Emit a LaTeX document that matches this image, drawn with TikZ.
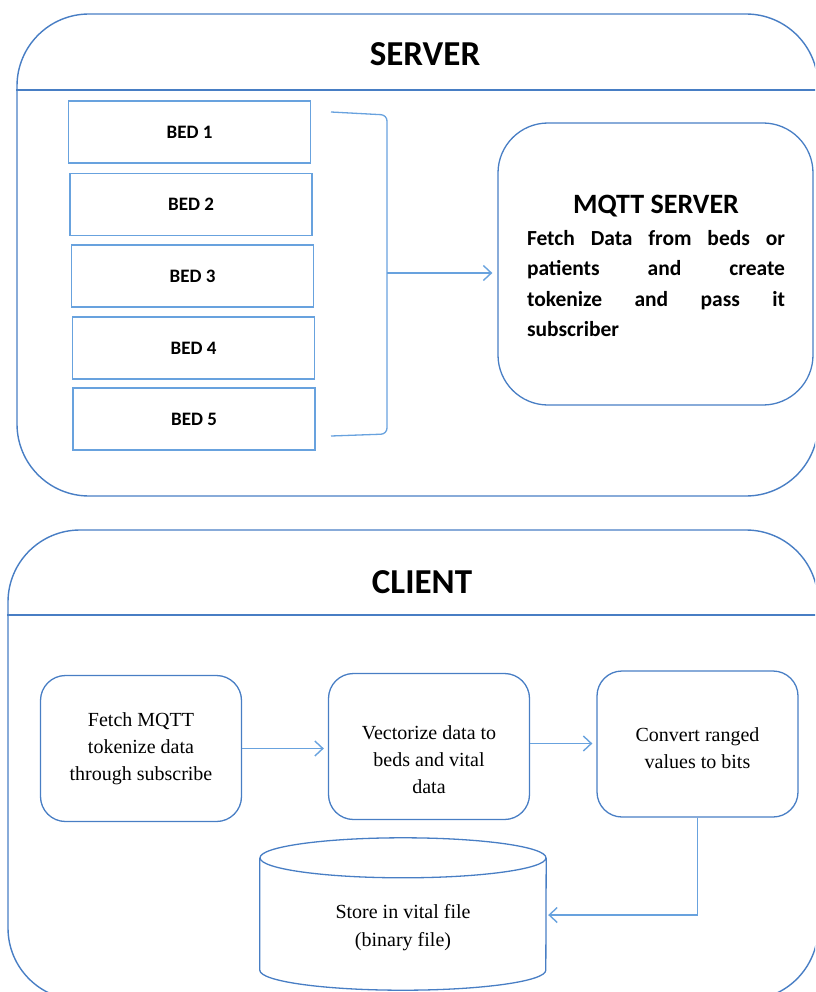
\documentclass[tikz,border=0pt]{standalone}
\usepackage{fontspec}
\setmainfont{Liberation Serif}
\newfontfamily\calfont{Carlito}
\usetikzlibrary{arrows.meta}

\definecolor{edgeblue}{RGB}{72,126,196}
\definecolor{lineblue}{RGB}{104,162,222}

\tikzset{
  outerbox/.style={draw=edgeblue, line width=1.4pt, rounded corners=72pt, inner sep=0pt},
  divider/.style={draw=edgeblue, line width=1.2pt},
  paneltitle/.style={font=\calfont\bfseries\fontsize{35}{40}\selectfont},
  bedbox/.style={draw=lineblue, line width=1.3pt, minimum width=242pt, minimum height=62pt,
    inner sep=0pt, font=\calfont\bfseries\fontsize{19}{22}\selectfont},
  mqttbox/.style={draw=edgeblue, line width=1.3pt, rounded corners=50pt,
    minimum width=315pt, minimum height=282pt, inner sep=0pt},
  stepbox/.style={draw=edgeblue, line width=1.3pt, rounded corners=25pt,
    minimum width=201pt, minimum height=146pt, inner sep=0pt},
  steptext/.style={align=center, inner sep=0pt, font=\fontsize{20}{27}\selectfont},
  conn/.style={draw=lineblue, line width=1.4pt,
    -{Straight Barb[length=8pt,width=15pt,line width=1.4pt]}},
  bracket/.style={draw=lineblue, line width=1.3pt, rounded corners=6pt},
}

\begin{document}
\begin{tikzpicture}[x=1pt, y=-1pt]
\useasboundingbox (0,0) rectangle (815,992);
\clip (0,0) rectangle (815,992);

% ---------------- server panel ----------------
\node[outerbox, minimum width=801pt, minimum height=482pt] (server) at (417.5,255) {};
\draw[divider] (server.west |- 0,90) -- (server.east |- 0,90);
\node[paneltitle] (servertitle) at (425,54) {SERVER};

\node[bedbox] (bed1) at (189.5,132) {BED 1};
\node[bedbox] (bed2) at (191,204.5) {BED 2};
\node[bedbox] (bed3) at (192.5,276) {BED 3};
\node[bedbox] (bed4) at (193.5,348) {BED 4};
\node[bedbox] (bed5) at (194,419) {BED 5};

% bracket gathering the beds
\coordinate (brtop) at (331,112);
\coordinate (brbot) at (331,436);
\coordinate (brmid) at (387,273);
\draw[bracket] (brtop) -- (387,115) -- (387,434) -- (brbot);

\node[mqttbox] (mqtt) at (655.5,264) {};
\node[text width=258pt, align=justify, inner sep=0pt, font=\calfont\bfseries] (mqtttext) at (656,266) {%
  \hyphenpenalty=10000
  {\centering\fontsize{28}{33}\selectfont MQTT SERVER\par}
  \vspace{1pt}
  \fontsize{21.5}{30.5}\selectfont
  Fetch Data from beds or\linebreak
  patients and create\linebreak
  tokenize and pass it\linebreak
  subscriber\par};

\draw[conn] (brmid) -- ([xshift=-5pt]mqtt.west |- brmid);

% ---------------- client panel ----------------
\node[outerbox, minimum width=810pt, minimum height=470pt] (client) at (413,765) {};
\draw[divider] (client.west |- 0,615) -- (client.east |- 0,615);
\node[paneltitle] (clienttitle) at (422,582) {CLIENT};

\node[stepbox] (fetch) at (141,748.5) {};
\node[steptext] (fetchtext) at (141,749) {Fetch MQTT\\tokenize data\\through subscribe};
\node[stepbox] (vect) at (429,746.5) {};
\node[steptext] (vecttext) at (429,760) {Vectorize data to\\beds and vital\\data};
\node[stepbox] (conv) at (697.5,744) {};
\node[steptext] (convtext) at (697.5,748) {Convert ranged\\values to bits};

% data store drawn as a cylinder around the node body
\node[minimum width=286pt, minimum height=132pt, inner sep=0pt, align=center,
  font=\fontsize{20}{28}\selectfont] (store) at (403,928)
  {Store in vital file\\(binary file)};
\draw[draw=edgeblue, line width=1.3pt]
  ([yshift=4pt]store.north west) -- ([yshift=24pt]store.south west)
  arc[start angle=180, end angle=360, x radius=143pt, y radius=20pt]
  -- ([yshift=4pt]store.north east);
\draw[draw=edgeblue, line width=1.3pt] ([yshift=4pt]store.north)
  ellipse[x radius=143pt, y radius=20pt];

\draw[conn] (fetch.east) -- ([xshift=-4pt]vect.west |- fetch.east);
\draw[conn] ([yshift=3pt]vect.east) -- ([xshift=-4pt]conv.west |- 0,743.5);
\draw[conn] (conv.south) |- ([xshift=2pt,yshift=13pt]store.east);
\end{tikzpicture}
\end{document}
